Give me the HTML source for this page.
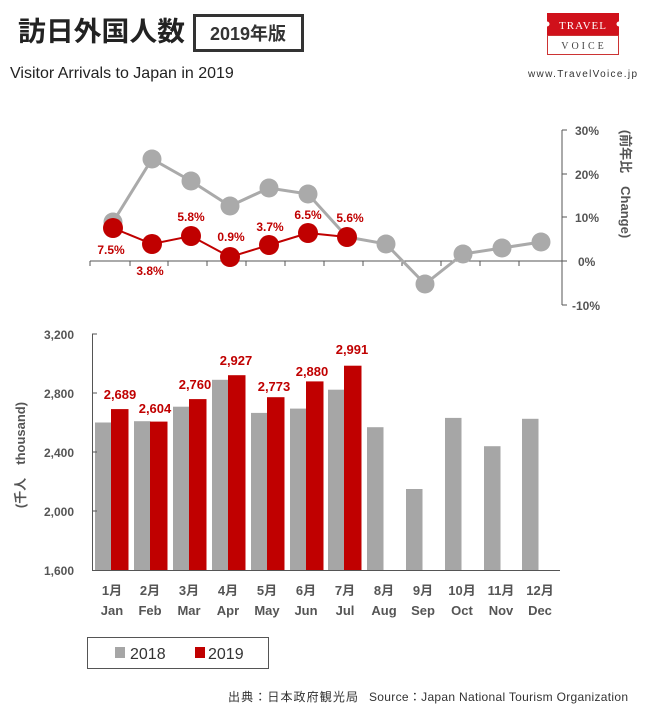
<!DOCTYPE html>
<html><head><meta charset="utf-8"><style>
body{margin:0;background:#fff;width:655px;height:719px;overflow:hidden}
svg{display:block}
</style></head><body>
<svg width="655" height="719" xmlns="http://www.w3.org/2000/svg" font-family="Liberation Sans, 'Noto Sans CJK JP', sans-serif">
<text x="18" y="41" font-size="27" font-weight="bold" fill="#222" font-family="'Noto Sans CJK JP',sans-serif" textLength="167" lengthAdjust="spacingAndGlyphs">訪日外国人数</text>
<rect x="194.5" y="15.5" width="108" height="35" fill="#fff" stroke="#333" stroke-width="3"/>
<text x="248" y="40" font-size="18" font-weight="bold" fill="#333" text-anchor="middle" font-family="'Liberation Sans','Noto Sans CJK JP',sans-serif">2019年版</text>
<text x="10" y="78" font-size="16" fill="#222">Visitor Arrivals to Japan in 2019</text>
<rect x="547" y="13" width="72" height="22" fill="#d0111b"/>
<rect x="547.5" y="35.5" width="71" height="19" fill="#fff" stroke="#c33"/>
<circle cx="547" cy="24" r="2.5" fill="#fff"/><circle cx="619" cy="24" r="2.5" fill="#fff"/>
<text x="583" y="29" font-size="11" fill="#fff" text-anchor="middle" font-family="'Liberation Serif',serif" letter-spacing="1">TRAVEL</text>
<text x="584" y="49" font-size="10" fill="#444" text-anchor="middle" font-family="'Liberation Serif',serif" letter-spacing="3">VOICE</text>
<text x="528" y="77" font-size="10" fill="#333" textLength="109">www.TravelVoice.jp</text>

<g stroke="#555" stroke-width="1">
<line x1="90" y1="261" x2="562" y2="261"/>
<line x1="562" y1="130" x2="562" y2="305"/>
<line x1="562" y1="130" x2="567" y2="130"/><line x1="562" y1="174" x2="567" y2="174"/><line x1="562" y1="217" x2="567" y2="217"/><line x1="562" y1="261" x2="567" y2="261"/><line x1="562" y1="305" x2="567" y2="305"/>
<line x1="90" y1="261" x2="90" y2="266"/><line x1="130" y1="261" x2="130" y2="266"/><line x1="168" y1="261" x2="168" y2="266"/><line x1="207" y1="261" x2="207" y2="266"/><line x1="246" y1="261" x2="246" y2="266"/><line x1="285" y1="261" x2="285" y2="266"/><line x1="324" y1="261" x2="324" y2="266"/><line x1="363" y1="261" x2="363" y2="266"/><line x1="402" y1="261" x2="402" y2="266"/><line x1="441" y1="261" x2="441" y2="266"/><line x1="480" y1="261" x2="480" y2="266"/><line x1="519" y1="261" x2="519" y2="266"/>
</g>
<g font-size="12" font-weight="bold" fill="#555">
<text x="575" y="135">30%</text><text x="575" y="179">20%</text><text x="575" y="222">10%</text><text x="578" y="266">0%</text><text x="572" y="310">-10%</text>
</g>
<text transform="translate(621,184) rotate(90)" font-size="13" font-weight="bold" fill="#555" text-anchor="middle" font-family="'Liberation Sans','Noto Sans CJK JP',sans-serif">(前年比　Change)</text>

<polyline fill="none" stroke="#aaa" stroke-width="3" points="113,222 152,159 191,181 230,206 269,188 308,194 347,237 386,244 425,284 463,254 502,248 541,242"/>
<g fill="#aaa">
<circle cx="113" cy="222" r="9.5"/><circle cx="152" cy="159" r="9.5"/><circle cx="191" cy="181" r="9.5"/><circle cx="230" cy="206" r="9.5"/><circle cx="269" cy="188" r="9.5"/><circle cx="308" cy="194" r="9.5"/><circle cx="386" cy="244" r="9.5"/><circle cx="425" cy="284" r="9.5"/><circle cx="463" cy="254" r="9.5"/><circle cx="502" cy="248" r="9.5"/><circle cx="541" cy="242" r="9.5"/>
</g>
<polyline fill="none" stroke="#c00000" stroke-width="2" points="113,228 152,244 191,236 230,257 269,245 308,233 347,237"/>
<g fill="#c00000">
<circle cx="113" cy="228" r="10"/><circle cx="152" cy="244" r="10"/><circle cx="191" cy="236" r="10"/><circle cx="230" cy="257" r="10"/><circle cx="269" cy="245" r="10"/><circle cx="308" cy="233" r="10"/><circle cx="347" cy="237" r="10"/>
</g>
<g font-size="12" font-weight="bold" fill="#c00000" text-anchor="middle">
<text x="111" y="254">7.5%</text><text x="150" y="275">3.8%</text><text x="191" y="221">5.8%</text><text x="231" y="241">0.9%</text><text x="270" y="231">3.7%</text><text x="308" y="219">6.5%</text><text x="350" y="222">5.6%</text>
</g>

<g fill="#a6a6a6">
<rect x="95" y="422.5" width="16.5" height="147.5"/>
<rect x="134" y="421.2" width="16.5" height="148.8"/>
<rect x="173" y="406.7" width="16.5" height="163.3"/>
<rect x="212" y="379.8" width="16.5" height="190.2"/>
<rect x="251" y="412.9" width="16.5" height="157.1"/>
<rect x="290" y="408.6" width="16.5" height="161.4"/>
<rect x="328" y="389.7" width="16.5" height="180.3"/>
<rect x="367" y="427.2" width="16.5" height="142.8"/>
<rect x="406" y="489" width="16.5" height="81"/>
<rect x="445" y="417.9" width="16.5" height="152.1"/>
<rect x="484" y="446.2" width="16.5" height="123.8"/>
<rect x="522" y="418.8" width="16.5" height="151.2"/>
</g>
<g fill="#c00000">
<rect x="111" y="409.1" width="17.5" height="160.9"/>
<rect x="150" y="421.6" width="17.5" height="148.4"/>
<rect x="189" y="399.1" width="17.5" height="170.9"/>
<rect x="228" y="375.2" width="17.5" height="194.8"/>
<rect x="267" y="397.2" width="17.5" height="172.8"/>
<rect x="306" y="381.4" width="17.5" height="188.6"/>
<rect x="344" y="365.7" width="17.5" height="204.3"/>
</g>
<g stroke="#555" stroke-width="1">
<line x1="92.5" y1="334" x2="92.5" y2="570"/><line x1="92" y1="570.5" x2="560" y2="570.5"/>
<line x1="92" y1="334" x2="97" y2="334"/><line x1="92" y1="393" x2="97" y2="393"/><line x1="92" y1="452" x2="97" y2="452"/><line x1="92" y1="511" x2="97" y2="511"/>
</g>
<g font-size="12" font-weight="bold" fill="#555" text-anchor="end">
<text x="74" y="339">3,200</text><text x="74" y="398">2,800</text><text x="74" y="457">2,400</text><text x="74" y="516">2,000</text><text x="74" y="575">1,600</text>
</g>
<text transform="translate(25,455) rotate(-90)" font-size="13" font-weight="bold" fill="#555" text-anchor="middle" font-family="'Liberation Sans','Noto Sans CJK JP',sans-serif">(千人　thousand)</text>
<g font-size="13" font-weight="bold" fill="#c00000" text-anchor="middle">
<text x="120" y="399">2,689</text><text x="155" y="413">2,604</text><text x="195" y="389">2,760</text><text x="236" y="365">2,927</text><text x="274" y="391">2,773</text><text x="312" y="376">2,880</text><text x="352" y="354">2,991</text>
</g>
<g font-size="13" font-weight="bold" fill="#555" text-anchor="middle" font-family="'Liberation Sans','Noto Sans CJK JP',sans-serif">
<text x="112" y="595">1月</text><text x="150" y="595">2月</text><text x="189" y="595">3月</text><text x="228" y="595">4月</text><text x="267" y="595">5月</text><text x="306" y="595">6月</text><text x="345" y="595">7月</text><text x="384" y="595">8月</text><text x="423" y="595">9月</text><text x="462" y="595">10月</text><text x="501" y="595">11月</text><text x="540" y="595">12月</text>
<text x="112" y="615">Jan</text><text x="150" y="615">Feb</text><text x="189" y="615">Mar</text><text x="228" y="615">Apr</text><text x="267" y="615">May</text><text x="306" y="615">Jun</text><text x="345" y="615">Jul</text><text x="384" y="615">Aug</text><text x="423" y="615">Sep</text><text x="462" y="615">Oct</text><text x="501" y="615">Nov</text><text x="540" y="615">Dec</text>
</g>

<rect x="87.5" y="637.5" width="181" height="31" fill="#fff" stroke="#555"/>
<rect x="115" y="647" width="10" height="11" fill="#a6a6a6"/>
<text x="130" y="659" font-size="16" fill="#333">2018</text>
<rect x="195" y="647" width="10" height="11" fill="#c00000"/>
<text x="208" y="659" font-size="16" fill="#333">2019</text>

<text x="228" y="701" font-size="12" fill="#333" font-family="'Liberation Sans','Noto Sans CJK JP',sans-serif" textLength="130">出典：日本政府観光局</text>
<text x="369" y="701" font-size="12" fill="#333" font-family="'Liberation Sans','Noto Sans CJK JP',sans-serif" textLength="259">Source：Japan  National Tourism  Organization</text>
</svg>
</body></html>
